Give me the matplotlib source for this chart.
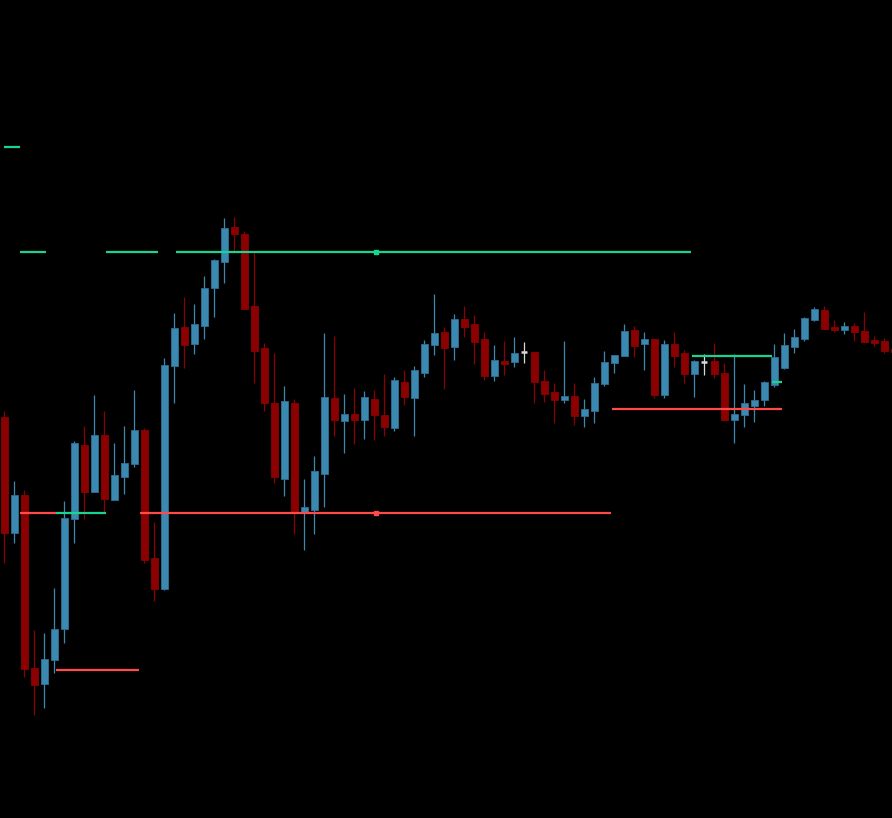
import matplotlib
matplotlib.use("Agg")
import matplotlib.pyplot as plt

# price levels, in screen rows (0 = top, bigger = lower price)
opens = [417, 533, 495, 668, 684, 660, 629, 519, 445, 492,
         435, 500, 477, 464, 430, 558, 589, 366, 327, 344,
         326, 288, 262, 227, 234, 306, 348, 403, 479, 403,
         512, 510, 474, 398, 421, 414, 420, 399, 415, 428,
         382, 398, 373, 345, 332, 347, 319, 324, 339, 376,
         361, 362, 352, 352, 381, 392, 400, 396, 416, 411,
         384, 363, 356, 330, 344, 339, 395, 344, 353, 374,
         362, 361, 373, 420, 415, 406, 400, 385, 368, 347,
         339, 320, 310, 327, 330, 326, 331, 340, 341, 349]
highs = [411, 481, 490, 630, 633, 588, 501, 441, 426, 395,
         411, 443, 426, 390, 428, 522, 358, 313, 297, 304,
         276, 259, 218, 217, 231, 250, 343, 353, 386, 399,
         479, 456, 333, 336, 394, 388, 391, 390, 374, 377,
         370, 366, 340, 294, 327, 314, 306, 315, 332, 345,
         341, 337, 342, 352, 370, 383, 341, 383, 399, 377,
         351, 355, 324, 326, 332, 339, 340, 332, 350, 360,
         354, 343, 363, 354, 384, 390, 381, 344, 333, 329,
         317, 307, 306, 320, 322, 323, 312, 336, 338, 347]
lows = [563, 543, 677, 715, 708, 673, 643, 543, 519, 492,
        512, 500, 494, 467, 563, 601, 590, 403, 368, 354,
        339, 317, 283, 251, 309, 383, 411, 483, 496, 534,
        550, 534, 507, 436, 453, 444, 439, 440, 436, 431,
        405, 436, 377, 355, 389, 360, 337, 364, 380, 381,
        375, 367, 363, 403, 402, 423, 403, 425, 427, 423,
        386, 373, 356, 357, 370, 398, 398, 367, 383, 397,
        375, 378, 420, 443, 427, 422, 406, 387, 369, 353,
        341, 321, 329, 332, 334, 341, 342, 346, 353, 353]
closes = [533, 495, 669, 685, 659, 629, 518, 443, 492, 435,
          499, 475, 463, 430, 560, 589, 365, 328, 345, 324,
          288, 260, 228, 234, 309, 351, 403, 477, 401, 512,
          507, 471, 397, 420, 414, 420, 397, 415, 427, 380,
          397, 370, 344, 333, 348, 319, 327, 342, 376, 360,
          364, 353, 352, 382, 394, 400, 396, 416, 409, 383,
          362, 355, 331, 346, 339, 395, 344, 356, 374, 361,
          362, 374, 420, 414, 403, 400, 382, 357, 345, 337,
          318, 309, 329, 330, 326, 332, 342, 343, 351, 352]

# level lines: (level, start bar, end bar)
green_levels = [(147, 0.0, 1.6), (252, 1.6, 4.2), (252, 10.2, 15.4), (252, 17.2, 68.7),
                (513, 5.2, 10.2), (356, 68.8, 76.8), (382, 76.8, 77.8)]
red_levels = [(513, 1.6, 5.2), (513, 13.6, 60.7), (670, 5.2, 13.5), (409, 60.8, 77.8)]
marks = [(37.2, 252, "#19d48e"), (37.2, 513, "#ff4a4a")]

up_col = "#3b88b0"
up_edge = "#2f6f92"
down_col = "#8b0000"
doji_col = "#d8d8d8"

fig = plt.figure(figsize=(8.92, 8.18), dpi=100, facecolor="black")
ax = fig.add_axes([0, 0, 1, 1], facecolor="black")

for i in range(len(opens)):
    o, h, l, c = opens[i], highs[i], lows[i], closes[i]
    if c < o:
        col, edge = up_col, up_edge
    elif c > o:
        col, edge = down_col, down_col
    else:
        col, edge = doji_col, doji_col
    ax.vlines(i, h, l, color=col, lw=0.9, zorder=2)
    if c == o:
        ax.hlines(o, i - 0.3, i + 0.3, color=col, lw=1.8, zorder=3)
    else:
        ax.bar(i, c - o, bottom=o, width=0.7, color=col, edgecolor=edge,
               linewidth=0.6, zorder=3)

for y, x0, x1 in red_levels:
    ax.hlines(y, x0, x1, color="#ff4a4a", lw=1.6, zorder=4)
for y, x0, x1 in green_levels:
    ax.hlines(y, x0, x1, color="#19d48e", lw=1.6, zorder=5)
for x, y, c in marks:
    ax.plot(x, y, marker="s", ms=2.2, color=c, zorder=6)

ax.set_xlim(-0.4, 88.8)
ax.set_ylim(818, 0)
ax.axis("off")

fig.savefig("out.png", dpi=100, facecolor="black")
